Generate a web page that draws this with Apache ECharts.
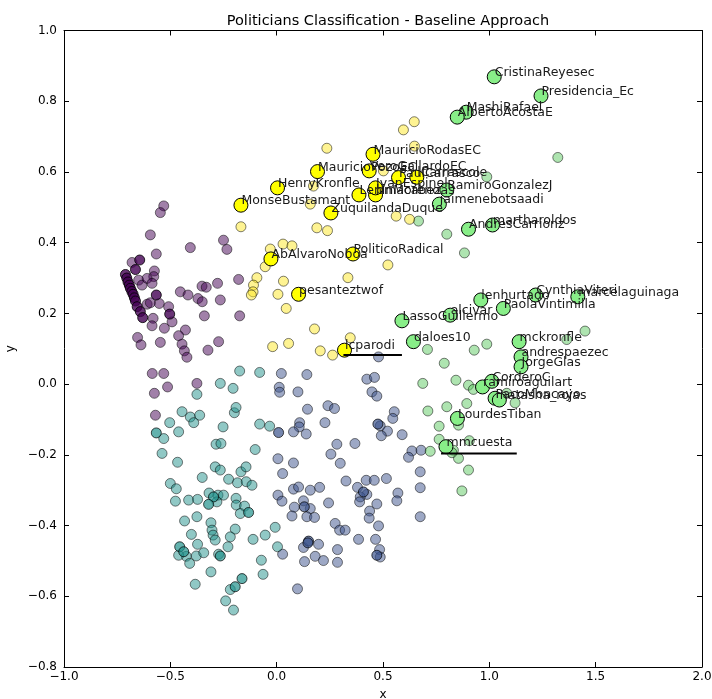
<!DOCTYPE html>
<html>
<head>
<meta charset="utf-8">
<script src="https://cdn.jsdelivr.net/npm/echarts@6/dist/echarts.min.js"></script>
<style>
  html, body { margin: 0; padding: 0; background: #fff; }
  #chart { width: 712px; height: 699px; }
</style>
</head>
<body>
<div id="chart"></div>
<script>
// ---- data: 2-D projection of accounts, grouped by cluster ----
const titleText = 'Politicians Classification - Baseline Approach';
const xTicks = [-1.0, -0.5, 0.0, 0.5, 1.0, 1.5, 2.0];
const yTicks = [-0.8, -0.6, -0.4, -0.2, 0.0, 0.2, 0.4, 0.6, 0.8, 1.0];

const purplePts = [[-0.531,0.504],[-0.547,0.485],[-0.594,0.422],[-0.406,0.386],[-0.250,0.407],[-0.234,0.381],[-0.566,0.368],[-0.680,0.344],[-0.575,0.320],[-0.578,0.304],[-0.649,0.294],[-0.633,0.280],[-0.609,0.299],[-0.586,0.285],[-0.552,0.228],[-0.609,0.226],[-0.594,0.230],[-0.508,0.219],[-0.492,0.176],[-0.528,0.158],[-0.581,0.186],[-0.586,0.165],[-0.654,0.132],[-0.638,0.111],[-0.547,0.118],[-0.453,0.261],[-0.417,0.252],[-0.351,0.277],[-0.331,0.274],[-0.370,0.242],[-0.350,0.233],[-0.278,0.285],[-0.265,0.238],[-0.179,0.296],[-0.340,0.193],[-0.174,0.193],[-0.429,0.153],[-0.461,0.137],[-0.445,0.113],[-0.434,0.094],[-0.422,0.076],[-0.323,0.096],[-0.273,0.120],[-0.585,0.030],[-0.531,0.030],[-0.575,-0.026],[-0.513,-0.008],[-0.375,0.002],[-0.570,-0.088]];
const purpleCore = [[-0.644,0.351],[-0.664,0.324],[-0.711,0.310],[-0.705,0.300],[-0.699,0.289],[-0.693,0.280],[-0.688,0.271],[-0.681,0.262],[-0.675,0.254],[-0.669,0.244],[-0.664,0.235],[-0.656,0.219],[-0.641,0.205],[-0.630,0.188],[-0.566,0.252],[-0.503,0.198]];

const bluePts = [[0.022,0.030],[0.142,0.027],[0.424,0.014],[0.460,0.019],[0.012,-0.009],[0.014,-0.023],[0.100,-0.022],[0.448,-0.022],[0.471,-0.034],[0.145,-0.071],[0.241,-0.061],[0.272,-0.069],[0.553,-0.078],[0.546,-0.097],[0.108,-0.109],[0.106,-0.121],[0.079,-0.135],[0.139,-0.141],[0.227,-0.109],[0.487,-0.118],[0.521,-0.133],[0.492,-0.146],[0.590,-0.143],[0.283,-0.170],[0.368,-0.168],[0.255,-0.198],[0.299,-0.224],[0.006,-0.211],[0.079,-0.223],[0.028,-0.253],[0.636,-0.189],[0.620,-0.207],[0.679,-0.187],[0.675,-0.248],[0.675,-0.293],[0.675,-0.375],[0.326,-0.274],[0.421,-0.272],[0.459,-0.272],[0.516,-0.267],[0.079,-0.297],[0.103,-0.291],[0.158,-0.300],[0.202,-0.292],[0.380,-0.292],[0.424,-0.312],[0.393,-0.319],[0.390,-0.333],[0.471,-0.339],[0.570,-0.308],[0.565,-0.330],[0.006,-0.314],[0.025,-0.331],[0.126,-0.330],[0.158,-0.352],[0.083,-0.348],[0.244,-0.336],[0.072,-0.373],[0.142,-0.375],[0.178,-0.377],[0.437,-0.359],[0.435,-0.379],[0.479,-0.401],[0.275,-0.394],[0.296,-0.413],[0.322,-0.413],[0.385,-0.439],[0.465,-0.439],[0.126,-0.462],[0.197,-0.453],[0.286,-0.468],[0.484,-0.468],[0.487,-0.489],[0.028,-0.481],[0.181,-0.487],[0.220,-0.499],[0.131,-0.502],[0.286,-0.504],[0.098,-0.579],[0.479,0.077]];
const blueCore = [[0.009,-0.137],[0.476,-0.113],[0.408,-0.305],[0.130,-0.347],[0.150,-0.444],[0.147,-0.449],[0.471,-0.484]];

const tealPts = [[-0.174,0.037],[-0.080,0.033],[-0.265,0.002],[-0.205,-0.012],[-0.375,-0.029],[-0.445,-0.078],[-0.406,-0.093],[-0.390,-0.109],[-0.362,-0.088],[-0.503,-0.109],[-0.461,-0.135],[-0.531,-0.154],[-0.252,-0.121],[-0.199,-0.081],[-0.191,-0.066],[-0.539,-0.196],[-0.466,-0.221],[-0.285,-0.170],[-0.262,-0.168],[-0.101,-0.185],[-0.080,-0.113],[-0.033,-0.119],[-0.289,-0.234],[-0.265,-0.243],[-0.350,-0.264],[-0.226,-0.269],[-0.184,-0.279],[-0.168,-0.248],[-0.144,-0.234],[-0.143,-0.276],[-0.116,-0.286],[-0.500,-0.281],[-0.472,-0.296],[-0.476,-0.331],[-0.414,-0.328],[-0.372,-0.326],[-0.318,-0.308],[-0.276,-0.314],[-0.250,-0.314],[-0.281,-0.333],[-0.191,-0.323],[-0.190,-0.342],[-0.151,-0.345],[-0.171,-0.366],[-0.433,-0.387],[-0.375,-0.375],[-0.309,-0.392],[-0.304,-0.413],[-0.299,-0.427],[-0.289,-0.441],[-0.401,-0.425],[-0.195,-0.410],[-0.218,-0.432],[-0.229,-0.460],[-0.111,-0.439],[-0.054,-0.427],[-0.007,-0.405],[0.004,-0.460],[-0.425,-0.487],[-0.409,-0.507],[-0.461,-0.484],[-0.372,-0.453],[-0.378,-0.486],[-0.343,-0.477],[-0.273,-0.481],[-0.072,-0.498],[-0.064,-0.538],[-0.309,-0.531],[-0.383,-0.566],[-0.218,-0.581],[-0.240,-0.613],[-0.203,-0.639]];
const tealCore = [[-0.566,-0.138],[-0.297,-0.319],[-0.320,-0.340],[-0.132,-0.363],[-0.456,-0.460],[-0.437,-0.474],[-0.265,-0.486],[-0.163,-0.550],[-0.195,-0.573]];

const greenPts = [[0.988,0.113],[0.929,0.096],[0.709,0.098],[0.788,0.059],[0.687,0.002],[0.843,0.011],[0.902,-0.003],[0.925,-0.015],[0.711,-0.076],[0.800,-0.064],[0.894,-0.055],[0.764,-0.119],[0.764,-0.156],[0.722,-0.190],[0.831,-0.187],[0.855,-0.210],[0.902,-0.243],[0.871,-0.302],[1.082,-0.026],[1.121,-0.053],[0.855,-0.116],[0.906,-0.160],[0.824,-0.194],[0.667,0.461],[0.800,0.424],[0.883,0.371],[1.450,0.150],[1.364,0.126],[1.322,0.641],[0.988,0.586]];

const yellowPts = [[0.647,0.742],[0.596,0.719],[0.236,0.667],[0.648,0.673],[0.502,0.603],[0.173,0.560],[0.158,0.509],[0.562,0.475],[0.625,0.466],[-0.168,0.445],[0.189,0.442],[0.239,0.434],[-0.030,0.382],[0.030,0.396],[0.072,0.391],[-0.054,0.332],[-0.093,0.301],[-0.109,0.280],[-0.111,0.261],[-0.119,0.252],[0.032,0.291],[0.006,0.254],[0.045,0.214],[0.335,0.301],[0.523,0.337],[0.178,0.156],[0.346,0.131],[-0.019,0.106],[0.056,0.115],[0.205,0.094],[0.263,0.082]];

// named accounts
const yellowNames = ['MauricioRodasEC','MauricioPozoEC','VeroGallardoEC','PaulCarrasco','lCarrascole','HenryKronfle','MonseBustamant','LeninMoreno','bmacabezas','IvanEspinel','ZuquilandaDuque','PoliticoRadical','AbAlvaroNoboa','pesanteztwof','lcparodi'];
const yellowX = [0.453,0.192,0.435,0.573,0.659,0.004,-0.168,0.387,0.465,0.465,0.255,0.359,-0.027,0.103,0.319];
const yellowY = [0.650,0.601,0.603,0.584,0.585,0.555,0.506,0.535,0.535,0.555,0.484,0.368,0.354,0.254,0.096];

const greenNames = ['CristinaReyesec','Presidencia_Ec','MashiRafael','AlbertoAcostaE','RamiroGonzalezJ','jaimenebotsaadi','AndresCarrionz','martharoldos','LassoGuillermo','alcivar','daloes10','lenhurtado','PaolaVintimilla','CynthiaViteri','marcelaguinaga','mckronfle','andrespaezec','JorgeGlas','ramiroaguilart','CorderoC','PacoMoncayo','natasha_rojas','LourdesTiban','mmcuesta'];
const greenX = [1.023,1.243,0.891,0.849,0.800,0.765,0.902,1.015,0.589,0.816,0.643,0.960,1.066,1.218,1.416,1.140,1.149,1.149,0.968,1.012,1.027,1.047,0.850,0.796];
const greenY = [0.869,0.815,0.769,0.755,0.549,0.509,0.438,0.450,0.179,0.195,0.120,0.238,0.214,0.252,0.247,0.120,0.077,0.049,-0.008,0.008,-0.040,-0.045,-0.097,-0.177];

// two horizontal strokes under labels
const strokeA = [[0.314,0.082],[0.589,0.082]];
const strokeB = [[0.773,-0.196],[1.129,-0.196]];

// ---- chart ----
const FONT = '"DejaVu Sans", sans-serif';
const fmt = v => {
  const s = (Math.round(v * 10) / 10).toFixed(1);
  return s.replace('-', '\u2212');
};

function cloud(data, color, opacity) {
  return {
    type: 'scatter', data: data, symbolSize: 10,
    itemStyle: { color: color, borderColor: '#000', borderWidth: 1, opacity: opacity },
    emphasis: { disabled: true }, silent: true
  };
}

function named(names, xs, ys, color) {
  return {
    type: 'scatter', symbolSize: 14, silent: true, z: 5,
    data: names.map((n, i) => ({ name: n, value: [xs[i], ys[i]] })),
    itemStyle: { color: color, borderColor: '#000', borderWidth: 1, opacity: 1 },
    label: {
      show: true, formatter: '{b}', position: [8, 10],
      align: 'left', verticalAlign: 'bottom',
      fontFamily: FONT, fontSize: 12.5, color: '#1a1a1a'
    },
    labelLayout: { hideOverlap: false }
  };
}

function stroke(d) {
  return {
    type: 'line', data: d, symbol: 'none', silent: true, z: 6,
    lineStyle: { color: '#000', width: 2 }, animation: false
  };
}

const axisBase = {
  type: 'value', splitLine: { show: false },
  axisLine: { show: true, onZero: false, lineStyle: { color: '#000', width: 1 } },
  axisTick: { show: true, inside: true, length: 5, lineStyle: { color: '#000' } }
};

const chart = echarts.init(document.getElementById('chart'), null, { renderer: 'canvas' });
chart.setOption({
  animation: false,
  backgroundColor: '#fff',
  title: {
    text: titleText, left: 383, top: 9, textAlign: 'center',
    textStyle: { fontFamily: FONT, fontSize: 14.5, fontWeight: 'normal', color: '#000' }
  },
  grid: { left: 64, right: 10, top: 30.5, bottom: 32, containLabel: false, outerBoundsMode: 'none' },
  xAxis: [
    Object.assign({}, axisBase, {
      min: xTicks[0], max: xTicks[xTicks.length - 1], interval: 0.5, position: 'bottom',
      name: 'x', nameLocation: 'middle', nameGap: 22,
      nameTextStyle: { fontFamily: FONT, fontSize: 12, color: '#000' },
      axisLabel: { fontFamily: FONT, fontSize: 12, color: '#000', margin: 4, formatter: fmt }
    }),
    Object.assign({}, axisBase, {
      min: xTicks[0], max: xTicks[xTicks.length - 1], interval: 0.5, position: 'top',
      axisLabel: { show: false }
    })
  ],
  yAxis: [
    Object.assign({}, axisBase, {
      min: yTicks[0], max: yTicks[yTicks.length - 1], interval: 0.2, position: 'left',
      name: 'y', nameLocation: 'middle', nameGap: 43, nameRotate: 90,
      nameTextStyle: { fontFamily: FONT, fontSize: 12, color: '#000' },
      axisLabel: { fontFamily: FONT, fontSize: 12, color: '#000', margin: 7, formatter: fmt }
    }),
    Object.assign({}, axisBase, {
      min: yTicks[0], max: yTicks[yTicks.length - 1], interval: 0.2, position: 'right',
      axisLabel: { show: false }
    })
  ],
  series: [
    cloud(purplePts, '#440154', 0.5),
    cloud(purpleCore, '#440154', 0.8),
    cloud(bluePts, '#3b528b', 0.5),
    cloud(blueCore, '#3b528b', 0.7),
    cloud(tealPts, '#21918c', 0.5),
    cloud(tealCore, '#21918c', 0.7),
    cloud(greenPts, '#5ec962', 0.5),
    cloud(yellowPts, '#fde725', 0.5),
    named(yellowNames, yellowX, yellowY, '#ffff00'),
    named(greenNames, greenX, greenY, '#88ee88'),
    stroke(strokeA),
    stroke(strokeB)
  ]
});
</script>
</body>
</html>
